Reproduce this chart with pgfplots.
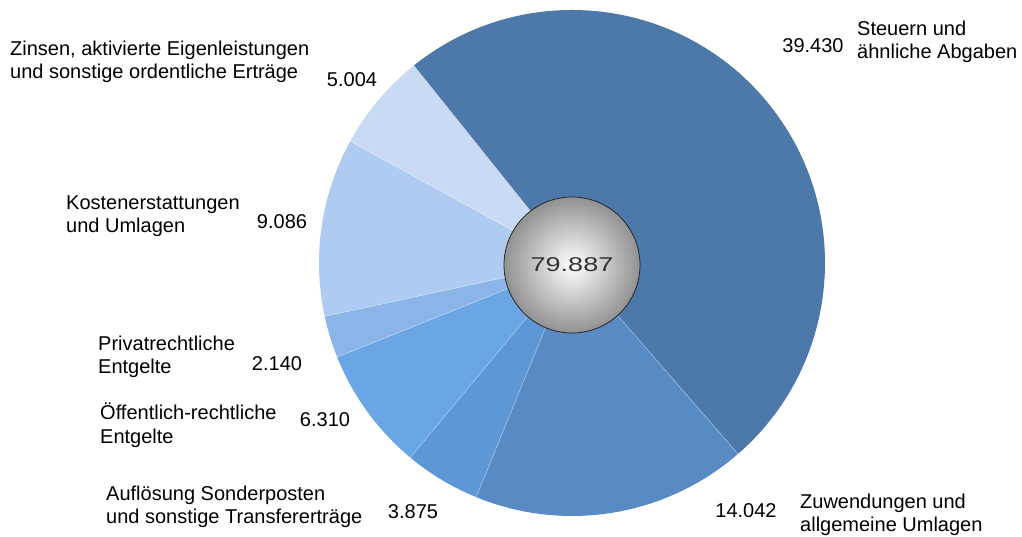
\documentclass[border=0pt]{standalone}
\usepackage{pgfplots}
\pgfplotsset{compat=1.18}
\usepackage{pgfplotstable}
\usepackage{fontspec}
\setmainfont{Liberation Sans}
\definecolor{c1}{HTML}{4C78AA}
\definecolor{c2}{HTML}{588AC4}
\definecolor{c3}{HTML}{5E97D5}
\definecolor{c4}{HTML}{6AA6E4}
\definecolor{c5}{HTML}{8BB4E8}
\definecolor{c6}{HTML}{AFCBF1}
\definecolor{c7}{HTML}{C9DAF4}
\pgfplotstableread{
val col
39.430 c1
14.042 c2
3.875 c3
6.310 c4
2.140 c5
9.086 c6
5.004 c7
}\piedata
\def\total{79.887}
\begin{document}
\begin{tikzpicture}
\begin{axis}[
  x=1bp, y=1bp, xmin=0, xmax=1022, ymin=0, ymax=537,
  hide axis, scale only axis, clip=false,
]
\path (rel axis cs:0,0) rectangle (rel axis cs:1,1);
\pgfmathsetmacro\sa{128.7}
\pgfplotsforeachungrouped \i in {0,...,6} {
  \pgfplotstablegetelem{\i}{val}\of\piedata
  \pgfmathsetmacro\ea{\sa-360*\pgfplotsretval/\total}
  \pgfplotstablegetelem{\i}{col}\of\piedata
  \edef\temp{\noexpand\fill[\pgfplotsretval, overlay] (axis cs:572,274) -- ++(\sa:253bp) arc[start angle=\sa, end angle=\ea, radius=253bp] -- cycle;
  \noexpand\draw[overlay, white, draw opacity=0.3, line width=0.8bp] (axis cs:572,274) -- ++(\sa:253bp);}
  \temp
  \global\let\sa\ea
}
\shade[overlay, inner color=white, outer color=black!43] (axis cs:572,272) circle[radius=68bp];
\draw[overlay, draw=black!85, line width=0.8pt] (axis cs:572,272) circle[radius=68bp];
\node[font=\fontsize{20bp}{22bp}\selectfont, text=black!80] at (axis cs:572,272) {\scalebox{1.35}[1]{79.887}};
\begin{scope}[every node/.style={font=\fontsize{20bp}{23.5bp}\selectfont, align=left, inner sep=0pt}]
\node[anchor=west] at (axis cs:857,495) {Steuern und\\ähnliche Abgaben};
\node at (axis cs:813,491) {39.430};
\node[anchor=west] at (axis cs:10,475) {Zinsen, aktivierte Eigenleistungen\\und sonstige ordentliche Erträge};
\node at (axis cs:352,457) {5.004};
\node[anchor=west] at (axis cs:66,321) {Kostenerstattungen\\und Umlagen};
\node at (axis cs:282,315) {9.086};
\node[anchor=west] at (axis cs:98,180) {Privatrechtliche\\Entgelte};
\node at (axis cs:277,173) {2.140};
\node[anchor=west] at (axis cs:100,112) {Öffentlich-rechtliche\\Entgelte};
\node at (axis cs:325,117) {6.310};
\node[anchor=west] at (axis cs:106,30) {Auflösung Sonderposten\\und sonstige Transfererträge};
\node at (axis cs:413,25) {3.875};
\node at (axis cs:746,26) {14.042};
\node[anchor=west] at (axis cs:800,22) {Zuwendungen und\\allgemeine Umlagen};
\end{scope}
\end{axis}
\end{tikzpicture}
\end{document}
